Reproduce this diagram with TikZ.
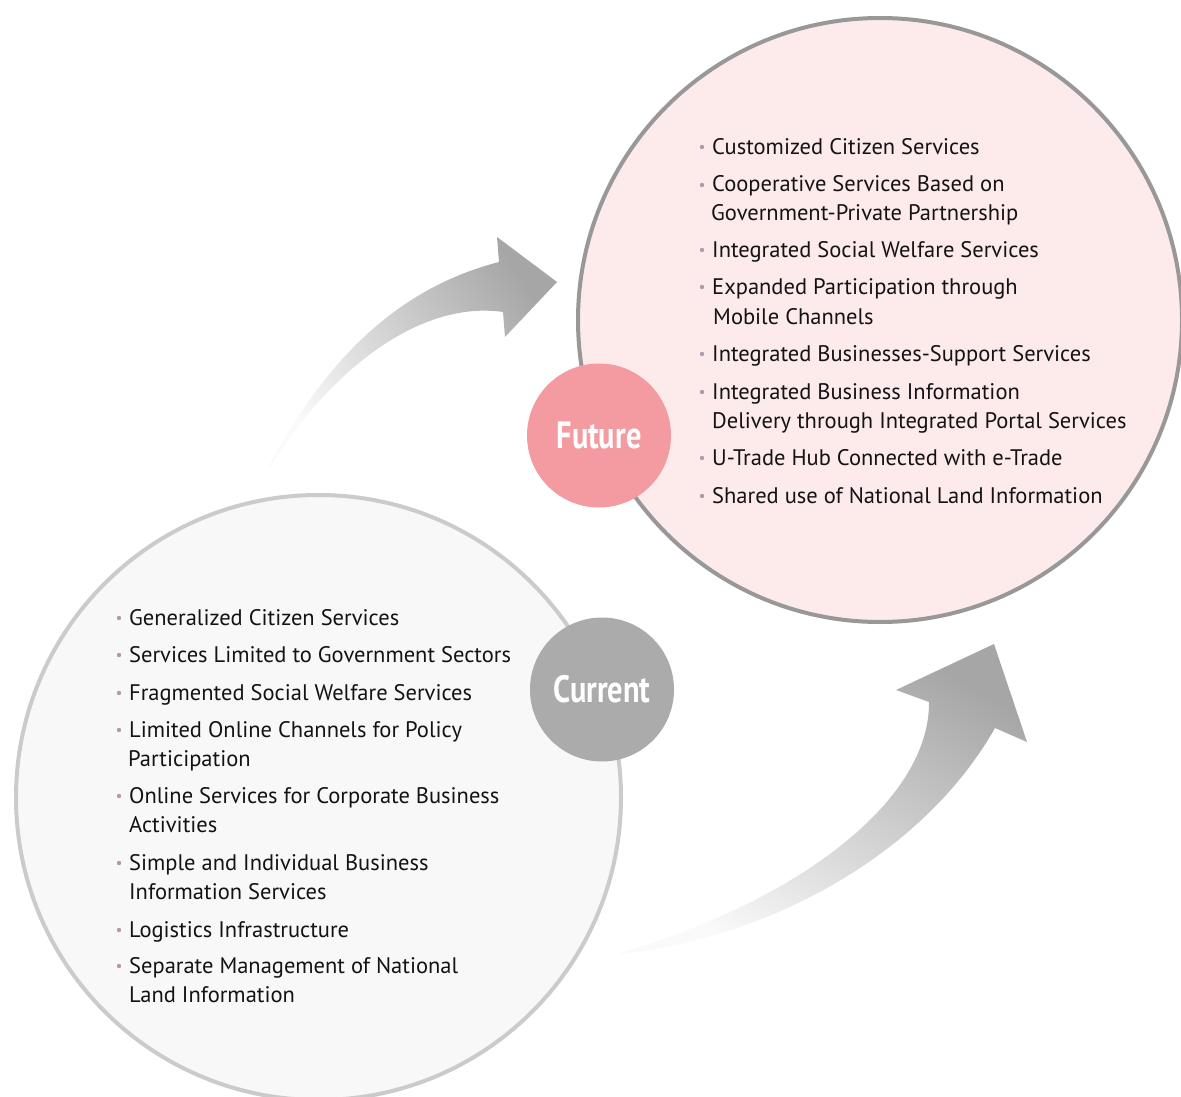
\documentclass[tikz,border=0pt]{standalone}
\usepackage{fontspec}
\setmainfont{PT Sans}
\newfontfamily\tagfont[FakeStretch=0.8]{PT Sans}

\definecolor{futfill}{RGB}{253,235,235}
\definecolor{futline}{RGB}{152,152,152}
\definecolor{curfill}{RGB}{248,248,248}
\definecolor{curline}{RGB}{203,203,203}
\definecolor{futdot}{RGB}{243,155,160}
\definecolor{curdot}{RGB}{171,171,171}
\definecolor{arrdark}{RGB}{166,166,166}
\definecolor{arrlight}{RGB}{250,250,250}
\definecolor{dotc}{RGB}{183,150,174}
\definecolor{txtc}{RGB}{20,18,20}

\begin{document}
\begin{tikzpicture}[x=1pt,y=-1pt,
  itemtext/.style={anchor=base west, inner sep=0pt, text=txtc,
    font=\fontsize{22.5}{27}\selectfont},
  tag/.style={circle, minimum size=144pt, inner sep=0pt, text=white,
    font=\tagfont\bfseries\fontsize{38}{38}\selectfont}]

  \useasboundingbox (0,0) rectangle (1181,1097);
  \clip (0,0) rectangle (1181,1097);

% the two big circles
  \filldraw[fill=futfill, draw=futline, line width=4pt] (880,320) circle (302);
  \filldraw[fill=curfill, draw=curline, line width=4pt] (318.5,797.5) circle (302.5);

% curved arrows
  \shade[top color=arrdark, bottom color=arrlight, shading angle=-55]
    (268,468) .. controls (320,370) and (390,290) .. (499,262)
    -- (497,237) -- (557,282) -- (505,337) -- (503,312)
    .. controls (420,300) and (330,370) .. (270,467) -- cycle;

  \shade[top color=arrdark, bottom color=arrlight, shading angle=-30]
    (620,953) .. controls (800,900) and (930,800) .. (929,702)
    -- (896,690) -- (994,644) -- (1027,742) -- (995,728)
    .. controls (920,860) and (760,940) .. (620,954) -- cycle;

  \node[tag, fill=futdot] (future) at (599,435.5) {Future};
  \node[tag, fill=curdot] (current) at (602,689.5) {Current};

% future list
  \foreach \yy/\txt [count=\i] in {154/Customized Citizen Services,
      192/Cooperative Services Based on,
      257/Integrated Social Welfare Services,
      294/Expanded Participation through,
      361/Integrated Businesses-Support Services,
      399/Integrated Business Information,
      465/U-Trade Hub Connected with e-Trade,
      503/Shared use of National Land Information}{
    \node[itemtext] (fut\i) at (712,\yy) {\txt};
    \fill[dotc] ([xshift=-10pt,yshift=7pt]fut\i.base west) circle (2.2);
  }
  \foreach \xx/\yy/\txt [count=\i] in {711/220/Government-Private Partnership,
      713/324/Mobile Channels,
      712/428/Delivery through Integrated Portal Services}
    \node[itemtext] (futb\i) at (\xx,\yy) {\txt};

% current list
  \foreach \yy/\txt [count=\i] in {625/Generalized Citizen Services,
      662/Services Limited to Government Sectors,
      700/Fragmented Social Welfare Services,
      737/Limited Online Channels for Policy,
      803/Online Services for Corporate Business,
      870/Simple and Individual Business,
      937/Logistics Infrastructure,
      973/Separate Management of National}{
    \node[itemtext] (cur\i) at (129,\yy) {\txt};
    \fill[dotc] ([xshift=-10pt,yshift=7pt]cur\i.base west) circle (2.2);
  }
  \foreach \xx/\yy/\txt [count=\i] in {128/766/Participation,
      129/832/Activities,
      129/899/Information Services,
      129/1002/Land Information}
    \node[itemtext] (curb\i) at (\xx,\yy) {\txt};

\end{tikzpicture}
\end{document}
